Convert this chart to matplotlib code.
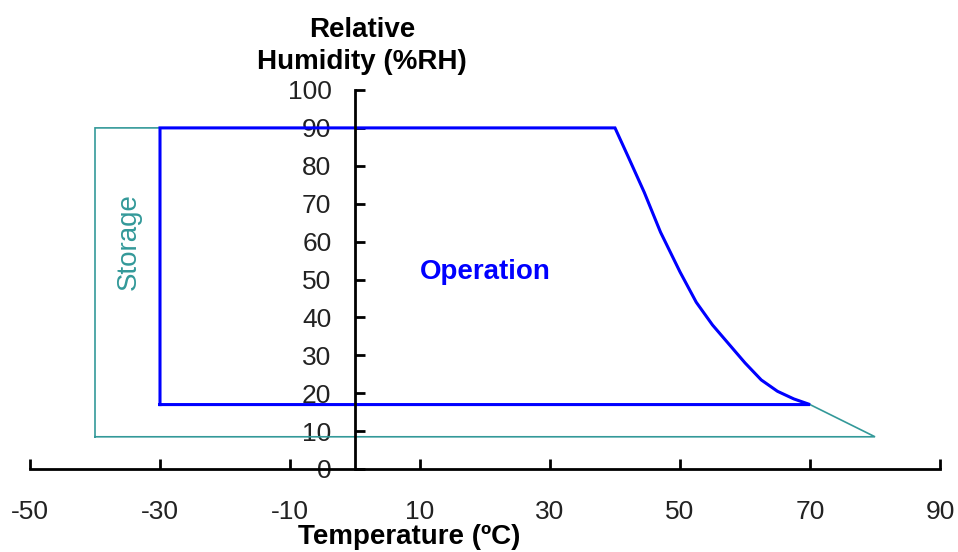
import matplotlib
matplotlib.use('Agg')
import matplotlib.pyplot as plt

plt.rcParams['font.family'] = ['Liberation Sans', 'DejaVu Sans']
plt.rcParams['axes.unicode_minus'] = False

# temperature (degC) / relative humidity (%RH) along the curved edge
curve_t = [40, 42, 44.5, 47, 50, 52.5, 55, 57.5, 60, 62.5, 65, 67.5, 70]
curve_rh = [90, 82.5, 73, 62.5, 52, 44, 38, 33, 28, 23.5, 20.5, 18.5, 17]

op_left = -30
op_bottom = 17
st_left = -40
st_right = 80
st_bottom = 8.5
top_rh = 90

x_ticks = [-50, -30, -10, 10, 30, 50, 70, 90]
y_ticks = list(range(0, 101, 10))

teal = '#339999'
blue = '#0000ff'

fig = plt.figure(figsize=(9.58, 5.52), dpi=100)
ax = fig.add_axes([30/958, 83/552, 910/958, 379/552])

# storage outline
st_x = [st_left, st_left] + curve_t + [st_right, st_left]
st_y = [st_bottom, top_rh] + curve_rh + [st_bottom, st_bottom]
ax.plot(st_x, st_y, color=teal, lw=1.2, solid_joinstyle='miter')

# operation outline
op_x = [op_left, op_left] + curve_t + [op_left]
op_y = [op_bottom, top_rh] + curve_rh + [op_bottom]
ax.plot(op_x, op_y, color=blue, lw=2.2, solid_joinstyle='miter')

ax.set_xlim(-50, 90)
ax.set_ylim(0, 100)

for s in ['top', 'right']:
    ax.spines[s].set_visible(False)
ax.spines['left'].set_position(('data', 0))
ax.spines['left'].set_linewidth(2)
ax.spines['bottom'].set_linewidth(2)

ax.set_xticks(x_ticks)
ax.set_yticks(y_ticks)
ax.tick_params(axis='x', direction='in', length=7, width=2, pad=22, labelsize=19)
ax.tick_params(axis='y', direction='in', length=7, width=2, pad=17, labelsize=19)
for lab in ax.get_xticklabels() + ax.get_yticklabels():
    lab.set_color('#222222')

fig.text(362/958, 1 - 46/552, 'Relative\nHumidity (%RH)', ha='center', va='center',
         fontsize=20, fontweight='bold', linespacing=1.3)
fig.text(409/958, 1 - 537/552, 'Temperature (ºC)', ha='center', va='center',
         fontsize=20, fontweight='bold')

ax.text(20, 52, 'Operation', color=blue, fontsize=20, fontweight='bold',
        ha='center', va='center')
ax.text(-34.8, 60, 'Storage', color=teal, fontsize=20, rotation=90,
        ha='center', va='center')

fig.savefig('out.png', dpi=100)
